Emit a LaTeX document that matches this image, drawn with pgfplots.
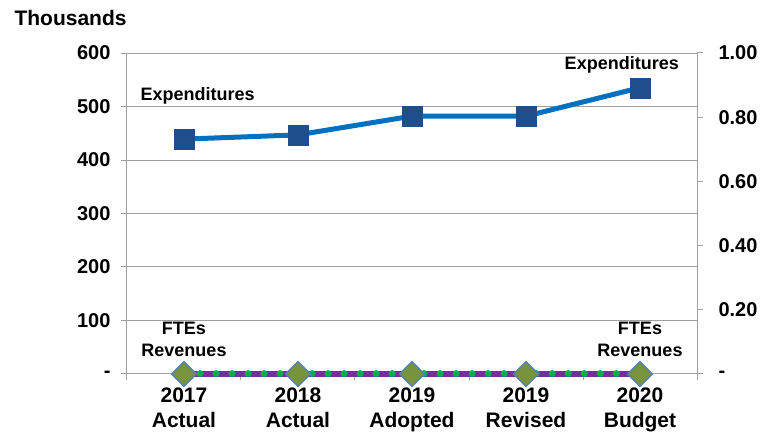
\documentclass[border=0pt]{standalone}
\usepackage{pgfplots}
\pgfplotsset{compat=1.18}
\usepackage{fontspec}
\setmainfont{Liberation Sans}
\definecolor{expline}{HTML}{0070C0}
\definecolor{expmark}{HTML}{1F4E8C}
\definecolor{revline}{HTML}{7030A0}
\definecolor{fteline}{HTML}{00B050}
\definecolor{diafill}{HTML}{77933C}
\definecolor{diaedge}{HTML}{4F81BD}
\definecolor{trigray}{HTML}{8C8C8C}
\definecolor{grid}{HTML}{A0A0A0}
\begin{document}
\begin{tikzpicture}[x=1pt,y=1pt]
\path[use as bounding box] (-127,-62) rectangle (653,374);
\begin{axis}[
  at={(0,0)}, anchor=south west,
  scale only axis, width=570pt, height=321pt,
  xmin=-0.5, xmax=4.5, ymin=0, ymax=600,
  axis x line*=bottom, axis y line*=left,
  axis line style={grid, line width=1pt},
  ytick={0,100,...,600},
  yticklabels={-,100,200,300,400,500,600},
  xtick={0,1,2,3,4},
  xticklabels={{2017\\Actual},{2018\\Actual},{2019\\Adopted},{2019\\Revised},{2020\\Budget}},
  minor xtick={-0.5,0.5,...,4.5},
  tick align=outside,
  major tick length=6pt, minor tick length=6pt,
  x tick style={draw=none},
  minor x tick style={draw=grid, line width=1pt},
  y tick style={draw=grid, line width=1pt},
  ymajorgrids, y grid style={grid, line width=1pt},
  yticklabel style={font=\fontsize{20}{21}\selectfont\bfseries, xshift=-7pt},
  xticklabel style={font=\fontsize{21}{25}\selectfont\bfseries, align=center, yshift=-4pt},
  clip=false,
]
\addplot[color=expline, line width=5pt, mark=square*, mark size=10pt,
  mark options={fill=expmark, draw=expmark, line width=0.5pt}]
  coordinates {(0,439) (1,447) (2,482) (3,482) (4,535)};
\node[font=\fontsize{18}{20}\selectfont\bfseries] at (axis cs:0.12,519) {Expenditures};
\node[font=\fontsize{18}{20}\selectfont\bfseries] at (axis cs:3.84,578) {Expenditures};
\node[font=\fontsize{18}{22}\selectfont\bfseries, align=center] at (axis cs:0,64) {FTEs\\Revenues};
\node[font=\fontsize{18}{22}\selectfont\bfseries, align=center] at (axis cs:4,64) {FTEs\\Revenues};
\end{axis}
\begin{axis}[
  at={(0,0)}, anchor=south west,
  scale only axis, width=570pt, height=321pt,
  xmin=-0.5, xmax=4.5, ymin=0, ymax=1,
  axis x line=none, axis y line*=right,
  axis line style={grid, line width=1pt},
  ytick={0,0.2,...,1},
  yticklabels={-,0.20,0.40,0.60,0.80,1.00},
  tick align=outside, major tick length=6pt,
  y tick style={draw=grid, line width=1pt},
  yticklabel style={font=\fontsize{20}{21}\selectfont\bfseries, anchor=west, xshift=12pt},
  clip=false,
]
\addplot[only marks, mark=triangle*, mark size=10pt,
  mark options={fill=trigray, draw=trigray}]
  coordinates {(0,0) (1,0) (2,0) (3,0) (4,0)};
\addplot[color=revline, line width=5.5pt, mark=none]
  coordinates {(0,0) (1,0) (2,0) (3,0) (4,0)};
\addplot[color=fteline, line width=7pt, dash pattern=on 0.01pt off 16pt, line cap=round, mark=none]
  coordinates {(0,0) (4,0)};
\addplot[only marks, mark=square*, mark size=8.8pt,
  mark options={fill=diafill, draw=diaedge, line width=1.2pt, rotate=45}]
  coordinates {(0,0) (1,0) (2,0) (3,0) (4,0)};
\end{axis}
\node[font=\fontsize{21}{22}\selectfont\bfseries, anchor=west] at (-116,356) {Thousands};
\end{tikzpicture}
\end{document}
